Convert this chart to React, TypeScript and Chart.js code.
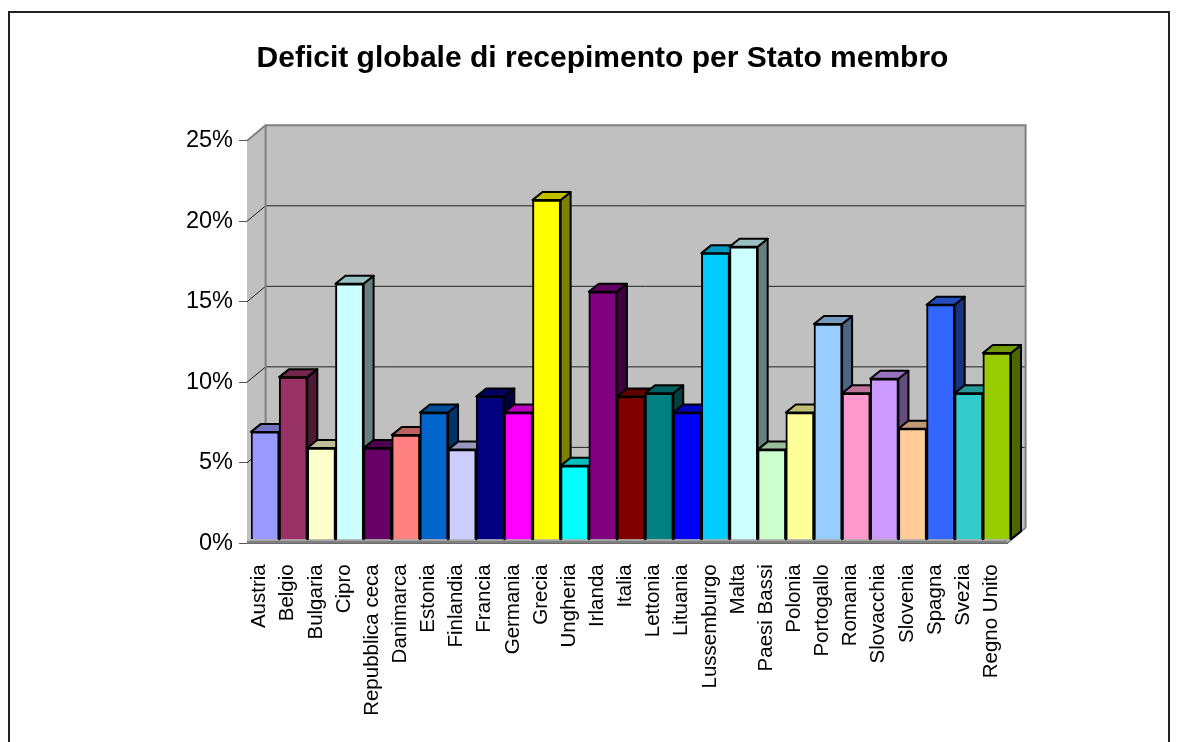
import React, { useEffect, useRef } from "react";
import { Chart, registerables } from "chart.js";

Chart.register(...registerables);

const categories = ["Austria","Belgio","Bulgaria","Cipro","Repubblica ceca","Danimarca","Estonia","Finlandia","Francia","Germania","Grecia","Ungheria","Irlanda","Italia","Lettonia","Lituania","Lussemburgo","Malta","Paesi Bassi","Polonia","Portogallo","Romania","Slovacchia","Slovenia","Spagna","Svezia","Regno Unito"];
const values = [6.7,10.1,5.7,15.9,5.7,6.5,7.9,5.6,8.9,7.9,21.1,4.6,15.4,8.9,9.1,7.9,17.8,18.2,5.6,7.9,13.4,9.1,10.0,6.9,14.6,9.1,11.6];
const colors = ["#9999FF","#993366","#FFFFCC","#CCFFFF","#660066","#FF8080","#0066CC","#CCCCFF","#000080","#FF00FF","#FFFF00","#00FFFF","#800080","#800000","#008080","#0000FF","#00CCFF","#CCFFFF","#CCFFCC","#FFFF99","#99CCFF","#FF99CC","#CC99FF","#FFCC99","#3366FF","#33CCCC","#99CC00"];
const yTicks = [0,5,10,15,20,25];
const title = "Deficit globale di recepimento per Stato membro";

const WALL_DX = 18.6, WALL_DY = 15.4;
const BAR_DX = 4, BAR_DY = 3.5;
const DEPTH_X = 10, DEPTH_Y = 8;

function shade(hex: string, f: number) {
  const n = parseInt(hex.slice(1), 16);
  const r = Math.round(((n >> 16) & 255) * f);
  const g = Math.round(((n >> 8) & 255) * f);
  const b = Math.round((n & 255) * f);
  return `rgb(${r},${g},${b})`;
}

function poly(ctx: CanvasRenderingContext2D, pts: number[][], fill: string, stroke: string | null, lw = 2) {
  ctx.beginPath();
  pts.forEach((p, i) => (i ? ctx.lineTo(p[0], p[1]) : ctx.moveTo(p[0], p[1])));
  ctx.closePath();
  ctx.fillStyle = fill;
  ctx.fill();
  if (stroke) {
    ctx.strokeStyle = stroke;
    ctx.lineWidth = lw;
    ctx.lineJoin = "round";
    ctx.stroke();
  }
}

const frame3d = {
  id: "frame3d",
  beforeDraw(chart: any) {
    const ctx = chart.ctx;
    ctx.save();
    ctx.strokeStyle = "#222";
    ctx.lineWidth = 2;
    ctx.strokeRect(9, 12, 1160, 800);
    ctx.restore();
  },
  beforeDatasetsDraw(chart: any) {
    const { ctx, chartArea: a, scales } = chart;
    const y = scales.y;
    ctx.save();
    const wl = a.left + WALL_DX, wr = a.right + WALL_DX, wt = a.top - WALL_DY, wb = a.bottom - WALL_DY;
    poly(ctx, [[a.left, a.top], [wl, wt], [wl, wb], [a.left, a.bottom]], "#C0C0C0", null);
    poly(ctx, [[wl, wt], [wr, wt], [wr, wb], [wl, wb]], "#C0C0C0", null);
    poly(ctx, [[a.left, a.bottom], [wl, wb], [wr, wb], [a.right, a.bottom]], "#B0B0B0", null);
    ctx.lineWidth = 1;
    ctx.strokeStyle = "#222";
    yTicks.slice(1, -1).forEach((v) => {
      const py = y.getPixelForValue(v);
      ctx.beginPath();
      ctx.moveTo(a.left, py);
      ctx.lineTo(wl, py - WALL_DY);
      ctx.lineTo(wr, py - WALL_DY);
      ctx.stroke();
    });
    ctx.strokeStyle = "#808080";
    ctx.lineWidth = 2;
    ctx.beginPath();
    ctx.moveTo(a.left, a.top);
    ctx.lineTo(wl, wt);
    ctx.lineTo(wr, wt);
    ctx.lineTo(wr, wb);
    ctx.moveTo(wl, wt);
    ctx.lineTo(wl, wb);
    ctx.stroke();
    ctx.lineWidth = 3;
    ctx.beginPath();
    ctx.moveTo(a.left, a.bottom - 1);
    ctx.lineTo(a.right, a.bottom - 1);
    ctx.stroke();
    ctx.strokeStyle = "#808080";
    ctx.lineWidth = 1.5;
    ctx.beginPath();
    ctx.moveTo(a.right, a.bottom);
    ctx.lineTo(wr, wb);
    ctx.stroke();
    ctx.restore();

    ctx.save();
    ctx.translate(BAR_DX, -BAR_DY);
    chart.getDatasetMeta(0).data.forEach((el: any, i: number) => {
      const w = el.width / 2;
      const l = el.x - w, r = el.x + w;
      poly(ctx, [[r, el.y], [r + DEPTH_X, el.y - DEPTH_Y], [r + DEPTH_X, el.base - DEPTH_Y], [r, el.base]], shade(colors[i], 0.5), "#000");
      poly(ctx, [[l, el.y], [l + DEPTH_X, el.y - DEPTH_Y], [r + DEPTH_X, el.y - DEPTH_Y], [r, el.y]], shade(colors[i], 0.75), "#000");
    });
  },
  afterDatasetsDraw(chart: any) {
    chart.ctx.restore();
  },
};

export default function App() {
  const ref = useRef<HTMLCanvasElement>(null);
  useEffect(() => {
    const chart = new Chart(ref.current as HTMLCanvasElement, {
      type: "bar",
      data: {
        labels: categories,
        datasets: [{ data: values, yAxisID: "y", backgroundColor: colors, borderColor: "#000", borderWidth: 2, barPercentage: 1, categoryPercentage: 1 }],
      },
      plugins: [frame3d],
      options: {
        responsive: false,
        animation: false,
        events: [],
        devicePixelRatio: 1,
        layout: { padding: { left: 23, right: 0, top: 0, bottom: 0 } },
        plugins: {
          legend: { display: false },
          tooltip: { enabled: false },
          title: {
            display: true,
            text: title,
            color: "#000",
            font: { family: "'Liberation Sans'", size: 30, weight: "bold" },
            padding: { top: 41, bottom: 63.7 },
          },
        },
        scales: {
          x: {
            afterFit: (s: any) => { s.height = 198.7; },
            grid: { display: false, drawTicks: false },
            border: { color: "#000", width: 1 },
            ticks: { color: "#000", font: { family: "'Liberation Sans'", size: 20.5 }, minRotation: 90, maxRotation: 90, autoSkip: false, padding: 21, labelOffset: -1.5 },
          },
          y: {
            min: 0,
            max: 25,
            afterFit: (s: any) => { s.width = 224; },
            afterBuildTicks: (s: any) => { s.ticks = yTicks.map((v) => ({ value: v })); },
            grid: { drawOnChartArea: false, drawTicks: true, tickLength: 8, tickColor: "#555" },
            border: { color: "#000", width: 1 },
            ticks: { color: "#000", font: { family: "'Liberation Sans'", size: 23.5 }, padding: 6, callback: (v: any) => v + "%" },
          },
          rightSpace: {
            position: "right",
            min: 0,
            max: 25,
            afterFit: (s: any) => { s.width = 175; },
            grid: { display: false },
            border: { display: false },
            ticks: { display: false },
          },
        },
      } as any,
    });
    return () => chart.destroy();
  }, []);
  return (
    <div style={{ position: "fixed", left: 0, top: 0, width: 1182, height: 742, background: "#fff" }}>
      <canvas ref={ref} width={1182} height={742} style={{ display: "block" }} />
    </div>
  );
}
